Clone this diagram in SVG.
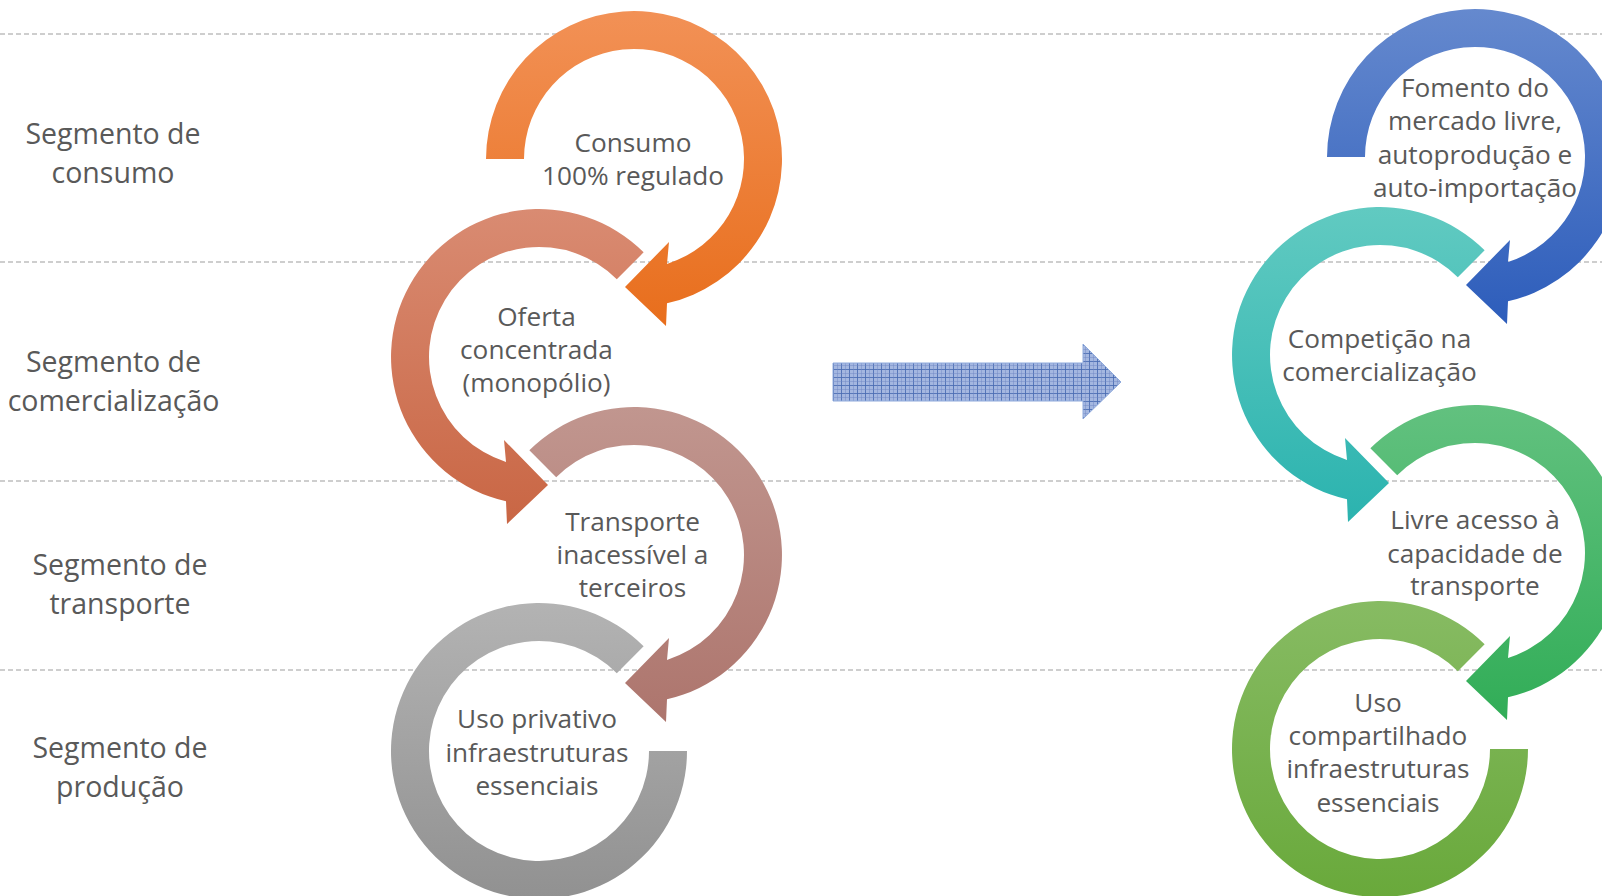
<svg xmlns="http://www.w3.org/2000/svg" width="1602" height="896" viewBox="0 0 1602 896">
<style>
.grid{stroke:#BFBFBF;stroke-width:1.3;stroke-dasharray:5 3;fill:none}
.lbl{font-family:"Open Sans","Noto Sans","DejaVu Sans",sans-serif;font-size:28.5px;fill:#595959;text-anchor:middle}
.txt{font-family:"Open Sans","Noto Sans","DejaVu Sans",sans-serif;font-size:26.2px;fill:#595959;text-anchor:middle}
</style>
<defs>
<linearGradient id="gOrange" x1="0" y1="0" x2="0" y2="1"><stop offset="0" stop-color="#F29156"/><stop offset="1" stop-color="#E86E1C"/></linearGradient>
<linearGradient id="gSalmon" x1="0" y1="0" x2="0" y2="1"><stop offset="0" stop-color="#D98B72"/><stop offset="1" stop-color="#C96644"/></linearGradient>
<linearGradient id="gRosy" x1="0" y1="0" x2="0" y2="1"><stop offset="0" stop-color="#C1968F"/><stop offset="1" stop-color="#AD756D"/></linearGradient>
<linearGradient id="gGray" x1="0" y1="0" x2="0" y2="1"><stop offset="0" stop-color="#B3B3B3"/><stop offset="1" stop-color="#919191"/></linearGradient>
<linearGradient id="gBlue" x1="0" y1="0" x2="0" y2="1"><stop offset="0" stop-color="#6589CE"/><stop offset="1" stop-color="#2D5DBB"/></linearGradient>
<linearGradient id="gTeal" x1="0" y1="0" x2="0" y2="1"><stop offset="0" stop-color="#61CAC1"/><stop offset="1" stop-color="#2BB3AF"/></linearGradient>
<linearGradient id="gGreen" x1="0" y1="0" x2="0" y2="1"><stop offset="0" stop-color="#62C17F"/><stop offset="1" stop-color="#31AD57"/></linearGradient>
<linearGradient id="gLime" x1="0" y1="0" x2="0" y2="1"><stop offset="0" stop-color="#87BB63"/><stop offset="1" stop-color="#69A93B"/></linearGradient>
<pattern id="plaid" width="8" height="8" patternUnits="userSpaceOnUse">
<rect width="8" height="8" fill="#A4B7E0"/>
<rect x="0" y="1" width="8" height="1" fill="#4A6CB3" opacity="0.85"/>
<rect x="1" y="0" width="1" height="8" fill="#4A6CB3" opacity="0.85"/>
<rect x="0" y="5" width="8" height="1" fill="#6E88C4" opacity="0.45"/>
<rect x="5" y="0" width="1" height="8" fill="#6E88C4" opacity="0.45"/>
</pattern>
</defs>
<rect width="1602" height="896" fill="#FFFFFF"/>
<g id="gridlines">
<line class="grid" x1="0" y1="34" x2="1602" y2="34"/>
<line class="grid" x1="0" y1="262" x2="1602" y2="262"/>
<line class="grid" x1="0" y1="481" x2="1602" y2="481"/>
<line class="grid" x1="0" y1="670" x2="1602" y2="670"/>
</g>
<g id="labels">
<text class="lbl" x="113" y="144">Segmento de</text>
<text class="lbl" x="113" y="183">consumo</text>
<text class="lbl" x="113.5" y="372">Segmento de</text>
<text class="lbl" x="113.5" y="411">comercialização</text>
<text class="lbl" x="120" y="575">Segmento de</text>
<text class="lbl" x="120" y="614">transporte</text>
<text class="lbl" x="120" y="758">Segmento de</text>
<text class="lbl" x="120" y="797">produção</text>
</g>
<g id="node-consumo">
<path fill="url(#gOrange)" d="M 486 159 A 148 148 0 1 1 667 303.3 L 666 326 L 625 287 L 669 242 L 667 263.9 A 110 110 0 1 0 524 159 Z"/>
<text class="txt" x="633" y="152">Consumo</text>
<text class="txt" x="633" y="184.5">100% regulado</text>
</g>
<g id="node-oferta">
<path fill="url(#gSalmon)" d="M 643.65 252.35 A 148 148 0 1 0 506 501.3 L 507 524 L 548 485 L 504 440 L 506 461.9 A 110 110 0 1 1 616.8 279.2 Z"/>
<text class="txt" x="536.5" y="326">Oferta</text>
<text class="txt" x="536.5" y="358.5">concentrada</text>
<text class="txt" x="536.5" y="391.5">(monopólio)</text>
</g>
<g id="node-transporte">
<path fill="url(#gRosy)" d="M 529.35 450.35 A 148 148 0 1 1 667 699.3 L 666 722 L 625 683 L 669 638 L 667 659.9 A 110 110 0 1 0 556.2 477.2 Z"/>
<text class="txt" x="632.5" y="531">Transporte</text>
<text class="txt" x="632.5" y="563.5">inacessível a</text>
<text class="txt" x="632.5" y="596.5">terceiros</text>
</g>
<g id="node-uso-privativo">
<path fill="url(#gGray)" d="M 643.65 646.35 A 148 148 0 1 0 687 751 L 649 751 A 110 110 0 1 1 616.8 673.2 Z"/>
<text class="txt" x="537" y="728">Uso privativo</text>
<text class="txt" x="537" y="761.5">infraestruturas</text>
<text class="txt" x="537" y="795">essenciais</text>
</g>
<g id="connectors">
<path fill="url(#plaid)" stroke="#8FAADC" stroke-width="1" d="M 833 363 L 1083 363 L 1083 344 L 1121 382 L 1083 419 L 1083 401 L 833 401 Z"/>
</g>
<g id="node-fomento">
<path fill="url(#gBlue)" d="M 1327 157 A 148 148 0 1 1 1508 301.3 L 1507 324 L 1466 285 L 1510 240 L 1508 261.9 A 110 110 0 1 0 1365 157 Z"/>
<text class="txt" x="1475" y="97">Fomento do</text>
<text class="txt" x="1475" y="130">mercado livre,</text>
<text class="txt" x="1475" y="164">autoprodução e</text>
<text class="txt" x="1475" y="197">auto-importação</text>
</g>
<g id="node-competicao">
<path fill="url(#gTeal)" d="M 1484.65 250.35 A 148 148 0 1 0 1347 499.3 L 1348 522 L 1389 483 L 1345 438 L 1347 459.9 A 110 110 0 1 1 1457.8 277.2 Z"/>
<text class="txt" x="1379.5" y="348">Competição na</text>
<text class="txt" x="1379.5" y="381">comercialização</text>
</g>
<g id="node-livre-acesso">
<path fill="url(#gGreen)" d="M 1370.35 448.35 A 148 148 0 1 1 1508 697.3 L 1507 720 L 1466 681 L 1510 636 L 1508 657.9 A 110 110 0 1 0 1397.2 475.2 Z"/>
<text class="txt" x="1475" y="529">Livre acesso à</text>
<text class="txt" x="1475" y="562.5">capacidade de</text>
<text class="txt" x="1475" y="595">transporte</text>
</g>
<g id="node-uso-compartilhado">
<path fill="url(#gLime)" d="M 1484.65 644.35 A 148 148 0 1 0 1528 749 L 1490 749 A 110 110 0 1 1 1457.8 671.2 Z"/>
<text class="txt" x="1378" y="712">Uso</text>
<text class="txt" x="1378" y="745">compartilhado</text>
<text class="txt" x="1378" y="778">infraestruturas</text>
<text class="txt" x="1378" y="812">essenciais</text>
</g>
</svg>
